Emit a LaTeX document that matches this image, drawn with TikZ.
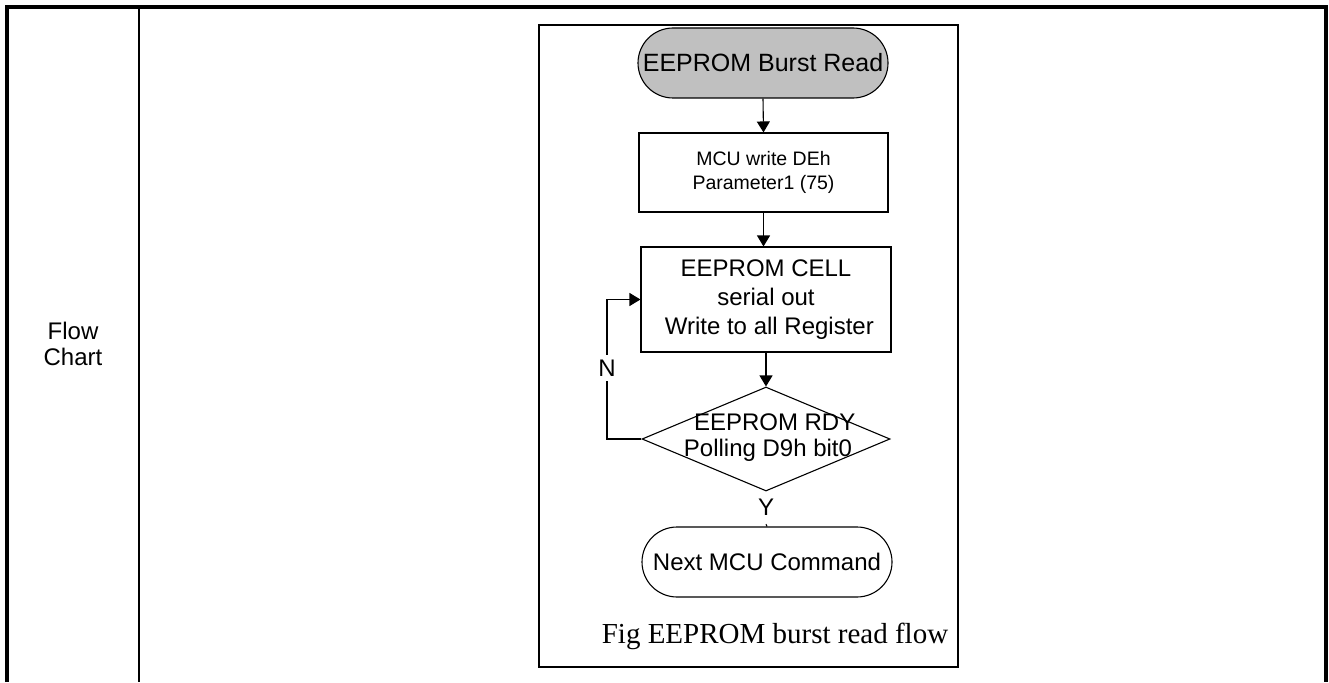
\documentclass[tikz,border=0pt]{standalone}
\usepackage{fontspec}
\setmainfont{Liberation Sans}
\newfontfamily\capfont{Liberation Serif}
\usepackage{tikz}
\usetikzlibrary{arrows.meta,positioning,shapes.geometric}
\definecolor{termgray}{RGB}{192,192,192}

\begin{document}
\begin{tikzpicture}[x=1pt,y=-1pt,
		flowline/.style={line width=1.1pt},
		arr/.style={flowline,-{Triangle[length=11pt,width=13pt]}},
		term/.style={draw,flowline,rounded corners=35pt,minimum width=250pt,minimum height=70pt,inner sep=0pt},
		procbox/.style={draw,flowline,inner sep=0pt,align=center},
		txt/.style={font=\fontsize{24}{26}\selectfont}]
			\useasboundingbox (0,0) rectangle (1329,682);
			
			\draw[line width=4pt] (7,682) -- (7,7) -- (1326,7) -- (1326,682);
			\draw[line width=2pt] (139,7) -- (139,682);
			\node[align=center,font=\fontsize{24}{26}\selectfont] (rowname) at (73,344) {Flow\\Chart};
			
			\draw[line width=2.5pt] (539,25) rectangle (958,667);
			
			\node[term,fill=termgray,font=\fontsize{25}{30}\selectfont] (start) at (763,63) {EEPROM Burst Read};
			
			\node[procbox,minimum width=249pt,minimum height=79pt,font=\fontsize{19.5}{24}\selectfont] (box1) at (763.5,172.5) {MCU write DEh\\Parameter1 (75)};
			
			\node[procbox,minimum width=250pt,minimum height=105pt,font=\fontsize{24}{29}\selectfont] (box2) at (766,299.5) {EEPROM CELL\\serial out\\\ Write to all Register};
			
			\node[draw,flowline,diamond,minimum width=248pt,minimum height=104pt,inner sep=0pt] (dec) at (766,439) {};
			\node[align=center,txt] (dectext) at (768,438) {\ \ EEPROM RDY\\Polling D9h bit0};
			
			\node[txt,inner sep=0pt,minimum height=34pt] (yes) at (766,507) {Y};
			\node[term,font=\fontsize{24}{29}\selectfont] (stop) at (767,562) {Next MCU Command};
			
			\node[font=\capfont\fontsize{29}{34}\selectfont] (caption) at (775,636) {Fig EEPROM burst read flow};
			
			\draw[arr] (start.south) -- (box1.north);
			\draw[arr] (box1.south) -- (box1.south |- box2.north);
			\draw[arr] (box2.south) -- (dec.north);
			\draw[flowline] (yes.south) -- (stop.north);
			
			\coordinate (loopc) at (607,439);
			\draw[arr] (dec.west) -- (loopc) |- (box2.west);
			\node[txt,fill=white,inner sep=5pt] (no) at (607,368) {N};
			
		\end{tikzpicture}
\end{document}
